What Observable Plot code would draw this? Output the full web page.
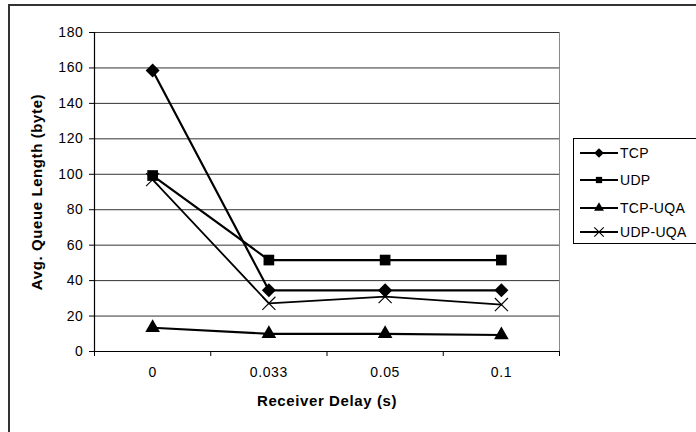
<!DOCTYPE html>
<html>
<head>
<meta charset="utf-8">
<script src="https://cdn.jsdelivr.net/npm/d3@7"></script>
<script src="https://cdn.jsdelivr.net/npm/@observablehq/plot@0.6"></script>
<style>
  html, body { margin: 0; padding: 0; background: #fff; }
  body { width: 696px; height: 432px; position: relative; overflow: hidden; font-family: "Liberation Sans", Arial, sans-serif; }
  #outer { position: absolute; left: 8px; top: 4px; width: 800px; height: 600px; border-left: 2px solid #333; border-top: 2px solid #333; box-sizing: border-box; }
  #chart { position: absolute; left: 0; top: 0; }
  #chart svg text { letter-spacing: 0.6px; }
  #legend { position: absolute; left: 573px; top: 138px; width: 130px; height: 106px; border: 1px solid #000; box-sizing: border-box; background: #fff; }
  .item { position: absolute; left: 5px; height: 20px; display: flex; align-items: center; font-size: 14px; letter-spacing: 0.3px; color: #000; }
  .item svg { margin-right: 1px; }
</style>
</head>
<body>
<div id="outer"></div>
<div id="chart"></div>
<div id="legend"></div>
<script>
const categories = ["0", "0.033", "0.05", "0.1"];
const seriesNames = ["TCP", "UDP", "TCP-UQA", "UDP-UQA"];
const tcp = [158.5, 34.5, 34.5, 34.5];
const udp = [99.3, 51.6, 51.6, 51.6];
const tcpUqa = [13.4, 10, 10, 9.3];
const udpUqa = [97, 27.2, 31, 26.5];
const yTicks = [0, 20, 40, 60, 80, 100, 120, 140, 160, 180];
const yTitle = "Avg. Queue Length (byte)";
const xTitle = "Receiver Delay (s)";

const seriesValues = [tcp, udp, tcpUqa, udpUqa];
const rows = [];
seriesNames.forEach((s, k) => seriesValues[k].forEach((v, i) => rows.push({s, i, v})));
const of = s => rows.filter(d => d.s === s);
const boundaries = d3.range(categories.length + 1).map(i => i - 0.5);

const chart = Plot.plot({
  width: 696,
  height: 432,
  marginLeft: 94,
  marginRight: 137,
  marginTop: 32,
  marginBottom: 81,
  style: { fontFamily: "Liberation Sans, Arial, sans-serif", fontSize: "14px", color: "#000", background: "transparent" },
  x: { domain: [-0.5, categories.length - 0.5] },
  y: { domain: [0, 180] },
  marks: [
    Plot.gridY(yTicks, { stroke: "#333", strokeOpacity: 1 }),
    Plot.ruleX([categories.length - 0.5], { stroke: "#888" }),
    Plot.axisY(yTicks, { tickSize: 5, tickPadding: 6, label: null, stroke: "#000", fontSize: 14 }),
    Plot.ruleX([-0.5], { stroke: "#000", strokeWidth: 1.2 }),
    Plot.ruleY([0], { stroke: "#000", strokeWidth: 1.2 }),
    Plot.axisX(boundaries, { tickSize: 5, tickFormat: () => "", label: null }),
    Plot.axisX(d3.range(categories.length), { tickSize: 0, tickPadding: 16, tickFormat: i => categories[i], label: null, fontSize: 14 }),
    Plot.text([yTitle], { frameAnchor: "left", textAnchor: "middle", dx: -57, rotate: -90, fontWeight: "bold", fontSize: 15 }),
    Plot.text([xTitle], { frameAnchor: "bottom", textAnchor: "middle", dy: 54, fontWeight: "bold", fontSize: 15 }),
    Plot.line(rows.filter(d => d.s !== "UDP-UQA"), { x: "i", y: "v", z: "s", stroke: "#000", strokeWidth: 2.2 }),
    Plot.line(of("UDP-UQA"), { x: "i", y: "v", stroke: "#000", strokeWidth: 1.8 }),
    Plot.dot(of("TCP"), { x: "i", y: "v", symbol: "diamond2", r: 6.3, fill: "#000" }),
    Plot.dot(of("UDP"), { x: "i", y: "v", symbol: "square2", r: 6.8, fill: "#000" }),
    Plot.dot(of("TCP-UQA"), { x: "i", y: "v", symbol: "triangle2", r: 7, fill: "#000" }),
    Plot.dot(of("UDP-UQA"), { x: "i", y: "v", symbol: "times", r: 6, stroke: "#000", strokeWidth: 1.1, fill: "none" })
  ]
});
document.getElementById("chart").appendChild(chart);

// legend
const legend = document.getElementById("legend");
const legendSymbols = [
  { type: d3.symbolDiamond2, size: 60, fill: true },
  { type: d3.symbolSquare2, size: 50, fill: true },
  { type: d3.symbolTriangle2, size: 70, fill: true },
  { type: d3.symbolTimes, size: 60, fill: false }
];
const legendTops = [4, 31, 59, 83];
seriesNames.forEach((name, k) => {
  const item = document.createElement("div");
  item.className = "item";
  item.style.top = legendTops[k] + "px";
  const sym = legendSymbols[k];
  const path = d3.symbol(sym.type, sym.size)();
  item.innerHTML = `<svg width="40" height="20"><line x1="1" x2="39" y1="10" y2="10" stroke="#000" stroke-width="2"/>` +
    `<path transform="translate(20,10)" d="${path}" fill="${sym.fill ? "#000" : "none"}" stroke="#000" stroke-width="${sym.fill ? 0 : 1.1}"/></svg>` +
    `<span>${name}</span>`;
  legend.appendChild(item);
});
</script>
</body>
</html>
